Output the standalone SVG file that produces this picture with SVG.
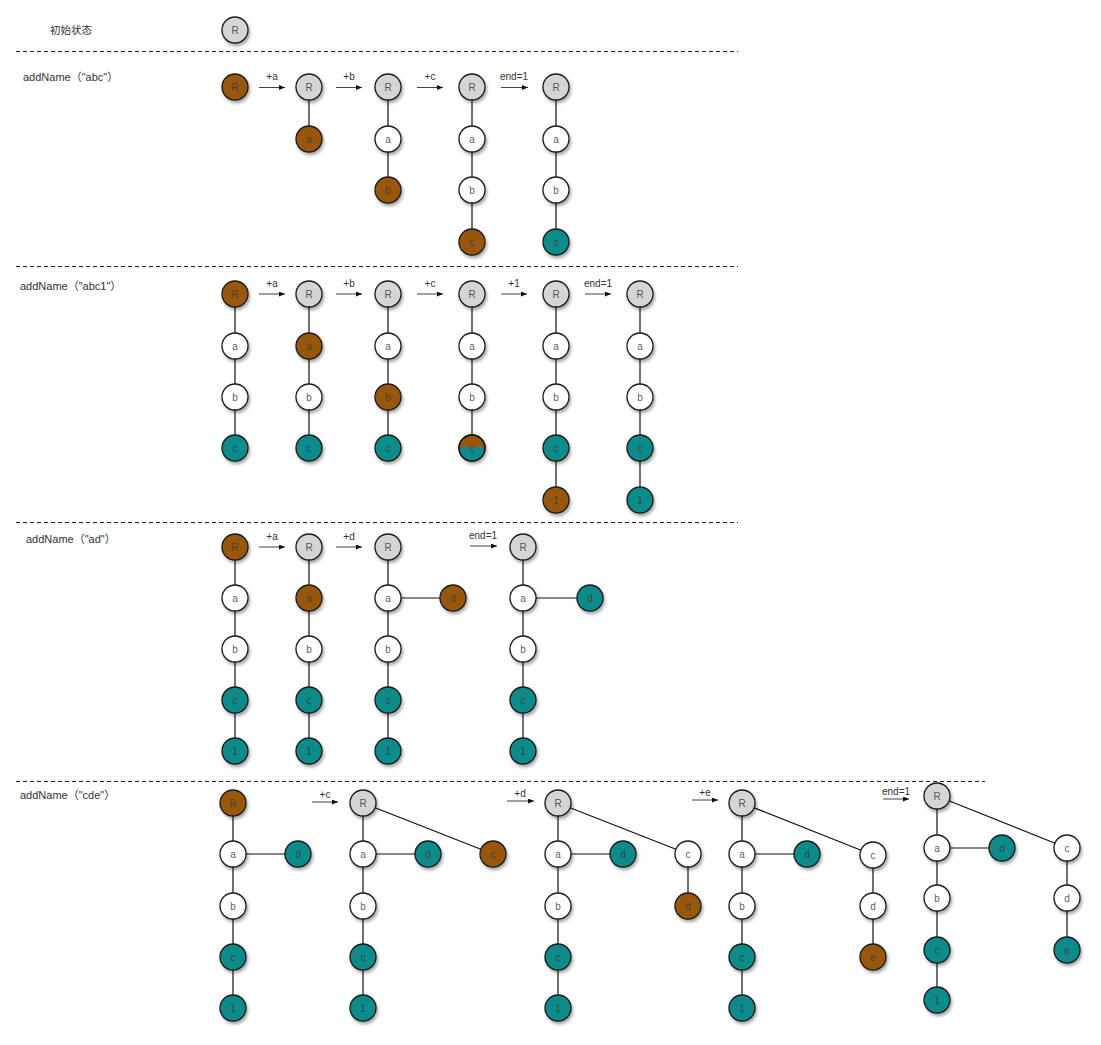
<svg xmlns="http://www.w3.org/2000/svg" width="1101" height="1045" viewBox="0 0 1101 1045">
<defs>
<style>
.bg{fill:#fff}
.sep{stroke:#222;stroke-width:1;stroke-dasharray:4,3;fill:none}
.e{stroke:#111;stroke-width:1.2;fill:none}
.ar{stroke:#111;stroke-width:0.8;fill:none;marker-end:url(#ah)}
.node circle{stroke:#1a1a1a;stroke-width:1.3;filter:url(#sh)}
.node .g{fill:#d5d5d5}
.node .w{fill:#ffffff}
.node .b{fill:#99570b}
.node .t{fill:#0b8b8b}
.node text{font-family:"Liberation Sans","DejaVu Sans",sans-serif;font-size:10px;fill:#3a3a3a;fill-opacity:0.85;text-anchor:middle}
.lbl{font-family:"Liberation Sans","Noto Sans CJK SC",sans-serif;font-size:11px;fill:#333}
.al{font-family:"Liberation Sans","DejaVu Sans",sans-serif;font-size:10px;fill:#333;text-anchor:middle}
</style>
<filter id="sh" x="-50%" y="-50%" width="200%" height="200%">
<feDropShadow dx="1.5" dy="2.5" stdDeviation="1.6" flood-color="#000" flood-opacity="0.35"/>
</filter>
<marker id="ah" markerUnits="userSpaceOnUse" markerWidth="6" markerHeight="5" refX="6" refY="2.5" orient="auto">
<path d="M0,0 L6,2.5 L0,5 z" fill="#111"/>
</marker>
<clipPath id="tophalf"><rect x="455" y="430" width="34" height="17"/></clipPath>
</defs>
<rect class="bg" x="0" y="0" width="1101" height="1045"/>

<g id="separators">
<line class="sep" x1="16" y1="51.5" x2="738" y2="51.5"/>
<line class="sep" x1="16" y1="266.5" x2="738" y2="266.5"/>
<line class="sep" x1="16" y1="522.5" x2="738" y2="522.5"/>
<line class="sep" x1="16" y1="781.5" x2="985" y2="781.5"/>
</g>

<g id="labels">
<text class="lbl" x="50" y="34" style="font-family:'Noto Sans CJK SC',sans-serif;font-size:10.5px">初始状态</text>
<text class="lbl" x="23" y="81">addName（"abc"）</text>
<text class="lbl" x="20" y="290">addName（"abc1"）</text>
<text class="lbl" x="26" y="543">addName（"ad"）</text>
<text class="lbl" x="20" y="799">addName（"cde"）</text>
</g>

<g id="connectors">
<!-- section 1 -->
<line class="e" x1="309" y1="87" x2="309" y2="139"/>
<line class="e" x1="388" y1="87" x2="388" y2="190"/>
<line class="e" x1="472" y1="87" x2="472" y2="242"/>
<line class="e" x1="556" y1="87" x2="556" y2="242"/>
<line class="ar" x1="259" y1="87.5" x2="285" y2="87.5"/>
<line class="ar" x1="336" y1="87.5" x2="362" y2="87.5"/>
<line class="ar" x1="417" y1="87.5" x2="443" y2="87.5"/>
<line class="ar" x1="501" y1="87.5" x2="528" y2="87.5"/>
<!-- section 2 -->
<line class="e" x1="235" y1="294" x2="235" y2="448"/>
<line class="e" x1="309" y1="294" x2="309" y2="448"/>
<line class="e" x1="388" y1="294" x2="388" y2="448"/>
<line class="e" x1="472" y1="294" x2="472" y2="448"/>
<line class="e" x1="556" y1="294" x2="556" y2="500"/>
<line class="e" x1="640" y1="294" x2="640" y2="500"/>
<line class="ar" x1="259" y1="294" x2="285" y2="294"/>
<line class="ar" x1="336" y1="294" x2="362" y2="294"/>
<line class="ar" x1="417" y1="294" x2="443" y2="294"/>
<line class="ar" x1="501" y1="294" x2="527" y2="294"/>
<line class="ar" x1="585" y1="294" x2="611" y2="294"/>
<!-- section 3 -->
<line class="e" x1="235" y1="547" x2="235" y2="751"/>
<line class="e" x1="309" y1="547" x2="309" y2="751"/>
<line class="e" x1="388" y1="547" x2="388" y2="751"/>
<line class="e" x1="388" y1="598" x2="453" y2="598"/>
<line class="e" x1="523" y1="547" x2="523" y2="751"/>
<line class="e" x1="523" y1="598" x2="590" y2="598"/>
<line class="ar" x1="259" y1="547" x2="285" y2="547"/>
<line class="ar" x1="336" y1="547" x2="362" y2="547"/>
<line class="ar" x1="470" y1="546" x2="497" y2="546"/>
<!-- section 4 -->
<line class="e" x1="233" y1="803" x2="233" y2="1008"/>
<line class="e" x1="233" y1="854" x2="298" y2="854"/>
<line class="e" x1="363" y1="803" x2="363" y2="1008"/>
<line class="e" x1="363" y1="854" x2="428" y2="854"/>
<line class="e" x1="363" y1="803" x2="493" y2="854"/>
<line class="e" x1="558" y1="803" x2="558" y2="1008"/>
<line class="e" x1="558" y1="854" x2="623" y2="854"/>
<line class="e" x1="558" y1="803" x2="688" y2="854"/>
<line class="e" x1="688" y1="854" x2="688" y2="906"/>
<line class="e" x1="742" y1="803" x2="742" y2="1008"/>
<line class="e" x1="742" y1="854" x2="807" y2="854"/>
<line class="e" x1="742" y1="803" x2="873" y2="855"/>
<line class="e" x1="873" y1="855" x2="873" y2="957"/>
<line class="e" x1="937" y1="796" x2="937" y2="1000"/>
<line class="e" x1="937" y1="848" x2="1002" y2="848"/>
<line class="e" x1="937" y1="796" x2="1067" y2="848"/>
<line class="e" x1="1067" y1="848" x2="1067" y2="950"/>
<line class="ar" x1="312" y1="802" x2="338" y2="802"/>
<line class="ar" x1="507" y1="801" x2="534" y2="801"/>
<line class="ar" x1="692" y1="800" x2="718" y2="800"/>
<line class="ar" x1="883" y1="799" x2="909" y2="799"/>
</g>

<g id="arrow-labels">
<text class="al" x="272" y="80">+a</text>
<text class="al" x="349" y="80">+b</text>
<text class="al" x="430" y="80">+c</text>
<text class="al" x="514" y="80">end=1</text>
<text class="al" x="272" y="287">+a</text>
<text class="al" x="349" y="287">+b</text>
<text class="al" x="430" y="287">+c</text>
<text class="al" x="514" y="287">+1</text>
<text class="al" x="598" y="287">end=1</text>
<text class="al" x="272" y="540">+a</text>
<text class="al" x="349" y="540">+d</text>
<text class="al" x="483" y="539">end=1</text>
<text class="al" x="325" y="798">+c</text>
<text class="al" x="520" y="797">+d</text>
<text class="al" x="705" y="796">+e</text>
<text class="al" x="896" y="795">end=1</text>
</g>

<!-- section 0 -->
<g id="s0-R" class="node"><circle class="g" cx="235" cy="30" r="13"/><text x="235" y="33.5">R</text></g>

<!-- section 1 -->
<g id="s1c1-R" class="node"><circle class="b" cx="235" cy="87" r="13"/><text x="235" y="90.5">R</text></g>
<g id="s1c2-R" class="node"><circle class="g" cx="309" cy="87" r="13"/><text x="309" y="90.5">R</text></g>
<g id="s1c2-a" class="node"><circle class="b" cx="309" cy="139" r="13"/><text x="309" y="142.5">a</text></g>
<g id="s1c3-R" class="node"><circle class="g" cx="388" cy="87" r="13"/><text x="388" y="90.5">R</text></g>
<g id="s1c3-a" class="node"><circle class="w" cx="388" cy="139" r="13"/><text x="388" y="142.5">a</text></g>
<g id="s1c3-b" class="node"><circle class="b" cx="388" cy="190" r="13"/><text x="388" y="193.5">b</text></g>
<g id="s1c4-R" class="node"><circle class="g" cx="472" cy="87" r="13"/><text x="472" y="90.5">R</text></g>
<g id="s1c4-a" class="node"><circle class="w" cx="472" cy="139" r="13"/><text x="472" y="142.5">a</text></g>
<g id="s1c4-b" class="node"><circle class="w" cx="472" cy="190" r="13"/><text x="472" y="193.5">b</text></g>
<g id="s1c4-c" class="node"><circle class="b" cx="472" cy="242" r="13"/><text x="472" y="245.5">c</text></g>
<g id="s1c5-R" class="node"><circle class="g" cx="556" cy="87" r="13"/><text x="556" y="90.5">R</text></g>
<g id="s1c5-a" class="node"><circle class="w" cx="556" cy="139" r="13"/><text x="556" y="142.5">a</text></g>
<g id="s1c5-b" class="node"><circle class="w" cx="556" cy="190" r="13"/><text x="556" y="193.5">b</text></g>
<g id="s1c5-c" class="node"><circle class="t" cx="556" cy="242" r="13"/><text x="556" y="245.5">c</text></g>

<!-- section 2 -->
<g id="s2c1-R" class="node"><circle class="b" cx="235" cy="294" r="13"/><text x="235" y="297.5">R</text></g>
<g id="s2c1-a" class="node"><circle class="w" cx="235" cy="346" r="13"/><text x="235" y="349.5">a</text></g>
<g id="s2c1-b" class="node"><circle class="w" cx="235" cy="397" r="13"/><text x="235" y="400.5">b</text></g>
<g id="s2c1-c" class="node"><circle class="t" cx="235" cy="448" r="13"/><text x="235" y="451.5">c</text></g>
<g id="s2c2-R" class="node"><circle class="g" cx="309" cy="294" r="13"/><text x="309" y="297.5">R</text></g>
<g id="s2c2-a" class="node"><circle class="b" cx="309" cy="346" r="13"/><text x="309" y="349.5">a</text></g>
<g id="s2c2-b" class="node"><circle class="w" cx="309" cy="397" r="13"/><text x="309" y="400.5">b</text></g>
<g id="s2c2-c" class="node"><circle class="t" cx="309" cy="448" r="13"/><text x="309" y="451.5">c</text></g>
<g id="s2c3-R" class="node"><circle class="g" cx="388" cy="294" r="13"/><text x="388" y="297.5">R</text></g>
<g id="s2c3-a" class="node"><circle class="w" cx="388" cy="346" r="13"/><text x="388" y="349.5">a</text></g>
<g id="s2c3-b" class="node"><circle class="b" cx="388" cy="397" r="13"/><text x="388" y="400.5">b</text></g>
<g id="s2c3-c" class="node"><circle class="t" cx="388" cy="448" r="13"/><text x="388" y="451.5">c</text></g>
<g id="s2c4-R" class="node"><circle class="g" cx="472" cy="294" r="13"/><text x="472" y="297.5">R</text></g>
<g id="s2c4-a" class="node"><circle class="w" cx="472" cy="346" r="13"/><text x="472" y="349.5">a</text></g>
<g id="s2c4-b" class="node"><circle class="w" cx="472" cy="397" r="13"/><text x="472" y="400.5">b</text></g>
<g id="s2c4-c" class="node"><circle class="t" cx="472" cy="448" r="13"/><circle class="b" cx="472" cy="448" r="13" clip-path="url(#tophalf)" style="filter:none"/><circle cx="472" cy="448" r="13" style="fill:none;filter:none"/><text x="472" y="451.5">c</text></g>
<g id="s2c5-R" class="node"><circle class="g" cx="556" cy="294" r="13"/><text x="556" y="297.5">R</text></g>
<g id="s2c5-a" class="node"><circle class="w" cx="556" cy="346" r="13"/><text x="556" y="349.5">a</text></g>
<g id="s2c5-b" class="node"><circle class="w" cx="556" cy="397" r="13"/><text x="556" y="400.5">b</text></g>
<g id="s2c5-c" class="node"><circle class="t" cx="556" cy="448" r="13"/><text x="556" y="451.5">c</text></g>
<g id="s2c5-1" class="node"><circle class="b" cx="556" cy="500" r="13"/><text x="556" y="503.5">1</text></g>
<g id="s2c6-R" class="node"><circle class="g" cx="640" cy="294" r="13"/><text x="640" y="297.5">R</text></g>
<g id="s2c6-a" class="node"><circle class="w" cx="640" cy="346" r="13"/><text x="640" y="349.5">a</text></g>
<g id="s2c6-b" class="node"><circle class="w" cx="640" cy="397" r="13"/><text x="640" y="400.5">b</text></g>
<g id="s2c6-c" class="node"><circle class="t" cx="640" cy="448" r="13"/><text x="640" y="451.5">c</text></g>
<g id="s2c6-1" class="node"><circle class="t" cx="640" cy="500" r="13"/><text x="640" y="503.5">1</text></g>

<!-- section 3 -->
<g id="s3c1-R" class="node"><circle class="b" cx="235" cy="547" r="13"/><text x="235" y="550.5">R</text></g>
<g id="s3c1-a" class="node"><circle class="w" cx="235" cy="598" r="13"/><text x="235" y="601.5">a</text></g>
<g id="s3c1-b" class="node"><circle class="w" cx="235" cy="649" r="13"/><text x="235" y="652.5">b</text></g>
<g id="s3c1-c" class="node"><circle class="t" cx="235" cy="700" r="13"/><text x="235" y="703.5">c</text></g>
<g id="s3c1-1" class="node"><circle class="t" cx="235" cy="751" r="13"/><text x="235" y="754.5">1</text></g>
<g id="s3c2-R" class="node"><circle class="g" cx="309" cy="547" r="13"/><text x="309" y="550.5">R</text></g>
<g id="s3c2-a" class="node"><circle class="b" cx="309" cy="598" r="13"/><text x="309" y="601.5">a</text></g>
<g id="s3c2-b" class="node"><circle class="w" cx="309" cy="649" r="13"/><text x="309" y="652.5">b</text></g>
<g id="s3c2-c" class="node"><circle class="t" cx="309" cy="700" r="13"/><text x="309" y="703.5">c</text></g>
<g id="s3c2-1" class="node"><circle class="t" cx="309" cy="751" r="13"/><text x="309" y="754.5">1</text></g>
<g id="s3c3-R" class="node"><circle class="g" cx="388" cy="547" r="13"/><text x="388" y="550.5">R</text></g>
<g id="s3c3-a" class="node"><circle class="w" cx="388" cy="598" r="13"/><text x="388" y="601.5">a</text></g>
<g id="s3c3-d" class="node"><circle class="b" cx="453" cy="598" r="13"/><text x="453" y="601.5">d</text></g>
<g id="s3c3-b" class="node"><circle class="w" cx="388" cy="649" r="13"/><text x="388" y="652.5">b</text></g>
<g id="s3c3-c" class="node"><circle class="t" cx="388" cy="700" r="13"/><text x="388" y="703.5">c</text></g>
<g id="s3c3-1" class="node"><circle class="t" cx="388" cy="751" r="13"/><text x="388" y="754.5">1</text></g>
<g id="s3c4-R" class="node"><circle class="g" cx="523" cy="547" r="13"/><text x="523" y="550.5">R</text></g>
<g id="s3c4-a" class="node"><circle class="w" cx="523" cy="598" r="13"/><text x="523" y="601.5">a</text></g>
<g id="s3c4-d" class="node"><circle class="t" cx="590" cy="598" r="13"/><text x="590" y="601.5">d</text></g>
<g id="s3c4-b" class="node"><circle class="w" cx="523" cy="649" r="13"/><text x="523" y="652.5">b</text></g>
<g id="s3c4-c" class="node"><circle class="t" cx="523" cy="700" r="13"/><text x="523" y="703.5">c</text></g>
<g id="s3c4-1" class="node"><circle class="t" cx="523" cy="751" r="13"/><text x="523" y="754.5">1</text></g>

<!-- section 4 -->
<g id="s4c1-R" class="node"><circle class="b" cx="233" cy="803" r="13"/><text x="233" y="806.5">R</text></g>
<g id="s4c1-a" class="node"><circle class="w" cx="233" cy="854" r="13"/><text x="233" y="857.5">a</text></g>
<g id="s4c1-d" class="node"><circle class="t" cx="298" cy="854" r="13"/><text x="298" y="857.5">d</text></g>
<g id="s4c1-b" class="node"><circle class="w" cx="233" cy="906" r="13"/><text x="233" y="909.5">b</text></g>
<g id="s4c1-c" class="node"><circle class="t" cx="233" cy="957" r="13"/><text x="233" y="960.5">c</text></g>
<g id="s4c1-1" class="node"><circle class="t" cx="233" cy="1008" r="13"/><text x="233" y="1011.5">1</text></g>

<g id="s4c2-R" class="node"><circle class="g" cx="363" cy="803" r="13"/><text x="363" y="806.5">R</text></g>
<g id="s4c2-a" class="node"><circle class="w" cx="363" cy="854" r="13"/><text x="363" y="857.5">a</text></g>
<g id="s4c2-d" class="node"><circle class="t" cx="428" cy="854" r="13"/><text x="428" y="857.5">d</text></g>
<g id="s4c2-c2" class="node"><circle class="b" cx="493" cy="854" r="13"/><text x="493" y="857.5">c</text></g>
<g id="s4c2-b" class="node"><circle class="w" cx="363" cy="906" r="13"/><text x="363" y="909.5">b</text></g>
<g id="s4c2-c" class="node"><circle class="t" cx="363" cy="957" r="13"/><text x="363" y="960.5">c</text></g>
<g id="s4c2-1" class="node"><circle class="t" cx="363" cy="1008" r="13"/><text x="363" y="1011.5">1</text></g>

<g id="s4c3-R" class="node"><circle class="g" cx="558" cy="803" r="13"/><text x="558" y="806.5">R</text></g>
<g id="s4c3-a" class="node"><circle class="w" cx="558" cy="854" r="13"/><text x="558" y="857.5">a</text></g>
<g id="s4c3-d" class="node"><circle class="t" cx="623" cy="854" r="13"/><text x="623" y="857.5">d</text></g>
<g id="s4c3-c2" class="node"><circle class="w" cx="688" cy="854" r="13"/><text x="688" y="857.5">c</text></g>
<g id="s4c3-d2" class="node"><circle class="b" cx="688" cy="906" r="13"/><text x="688" y="909.5">d</text></g>
<g id="s4c3-b" class="node"><circle class="w" cx="558" cy="906" r="13"/><text x="558" y="909.5">b</text></g>
<g id="s4c3-c" class="node"><circle class="t" cx="558" cy="957" r="13"/><text x="558" y="960.5">c</text></g>
<g id="s4c3-1" class="node"><circle class="t" cx="558" cy="1008" r="13"/><text x="558" y="1011.5">1</text></g>

<g id="s4c4-R" class="node"><circle class="g" cx="742" cy="803" r="13"/><text x="742" y="806.5">R</text></g>
<g id="s4c4-a" class="node"><circle class="w" cx="742" cy="854" r="13"/><text x="742" y="857.5">a</text></g>
<g id="s4c4-d" class="node"><circle class="t" cx="807" cy="854" r="13"/><text x="807" y="857.5">d</text></g>
<g id="s4c4-c2" class="node"><circle class="w" cx="873" cy="855" r="13"/><text x="873" y="858.5">c</text></g>
<g id="s4c4-d2" class="node"><circle class="w" cx="873" cy="906" r="13"/><text x="873" y="909.5">d</text></g>
<g id="s4c4-e" class="node"><circle class="b" cx="873" cy="957" r="13"/><text x="873" y="960.5">e</text></g>
<g id="s4c4-b" class="node"><circle class="w" cx="742" cy="906" r="13"/><text x="742" y="909.5">b</text></g>
<g id="s4c4-c" class="node"><circle class="t" cx="742" cy="957" r="13"/><text x="742" y="960.5">c</text></g>
<g id="s4c4-1" class="node"><circle class="t" cx="742" cy="1008" r="13"/><text x="742" y="1011.5">1</text></g>

<g id="s4c5-R" class="node"><circle class="g" cx="937" cy="796" r="13"/><text x="937" y="799.5">R</text></g>
<g id="s4c5-a" class="node"><circle class="w" cx="937" cy="848" r="13"/><text x="937" y="851.5">a</text></g>
<g id="s4c5-d" class="node"><circle class="t" cx="1002" cy="848" r="13"/><text x="1002" y="851.5">d</text></g>
<g id="s4c5-c2" class="node"><circle class="w" cx="1067" cy="848" r="13"/><text x="1067" y="851.5">c</text></g>
<g id="s4c5-d2" class="node"><circle class="w" cx="1067" cy="898" r="13"/><text x="1067" y="901.5">d</text></g>
<g id="s4c5-e" class="node"><circle class="t" cx="1067" cy="950" r="13"/><text x="1067" y="953.5">e</text></g>
<g id="s4c5-b" class="node"><circle class="w" cx="937" cy="898" r="13"/><text x="937" y="901.5">b</text></g>
<g id="s4c5-c" class="node"><circle class="t" cx="937" cy="950" r="13"/><text x="937" y="953.5">c</text></g>
<g id="s4c5-1" class="node"><circle class="t" cx="937" cy="1000" r="13"/><text x="937" y="1003.5">1</text></g>
</svg>
